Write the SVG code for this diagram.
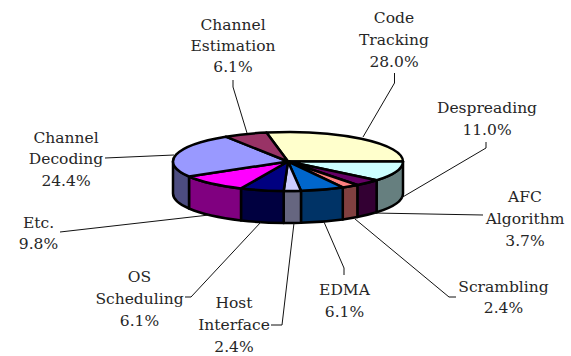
<svg xmlns="http://www.w3.org/2000/svg" width="571" height="356" viewBox="0 0 571 356">
  <style>
    .top, .side { stroke: #000; stroke-width: 2.5; stroke-linejoin: round; }
    .lbl { font-family: "DejaVu Serif", "Liberation Serif", serif; font-size: 15.5px; fill: #262626; text-anchor: middle; }
    .lead { fill: none; stroke: #111; stroke-width: 1; }
  </style>
  <rect width="571" height="356" fill="#fff"/>

  <!-- pie: centre (288,161.5), rx 115, ry 29.5, depth 32 -->
  <g id="code-tracking">
    <path class="top" fill="#FFFFCC" d="M288,161.5 L266.45,132.52 A115,29.5 0 0 1 403,161.5 Z"/>
    <text class="lbl" x="394" y="23">Code</text>
    <text class="lbl" x="394" y="45">Tracking</text>
    <text class="lbl" x="394" y="67">28.0%</text>
  </g>
  <g id="despreading">
    <path class="side" fill="#667F7F" d="M403,161.5 A115,29.5 0 0 1 376.61,180.3 L376.61,212.3 A115,29.5 0 0 0 403,193.5 Z"/>
    <path class="top" fill="#CCFFFF" d="M288,161.5 L403,161.5 A115,29.5 0 0 1 376.61,180.3 Z"/>
    <text class="lbl" x="487" y="113">Despreading</text>
    <text class="lbl" x="487" y="135">11.0%</text>
  </g>
  <g id="afc-algorithm">
    <path class="side" fill="#330033" d="M376.61,180.3 A115,29.5 0 0 1 357.35,185.03 L357.35,217.03 A115,29.5 0 0 0 376.61,212.3 Z"/>
    <path class="top" fill="#660066" d="M288,161.5 L376.61,180.3 A115,29.5 0 0 1 357.35,185.03 Z"/>
    <text class="lbl" x="525" y="202">AFC</text>
    <text class="lbl" x="525" y="224">Algorithm</text>
    <text class="lbl" x="525" y="246">3.7%</text>
  </g>
  <g id="scrambling">
    <path class="side" fill="#804040" d="M357.35,185.03 A115,29.5 0 0 1 342.77,187.44 L342.77,219.44 A115,29.5 0 0 0 357.35,217.03 Z"/>
    <path class="top" fill="#FF8080" d="M288,161.5 L357.35,185.03 A115,29.5 0 0 1 342.77,187.44 Z"/>
    <text class="lbl" x="503.5" y="292">Scrambling</text>
    <text class="lbl" x="503.5" y="313">2.4%</text>
  </g>
  <g id="edma">
    <path class="side" fill="#003366" d="M342.77,187.44 A115,29.5 0 0 1 300.98,190.81 L300.98,222.81 A115,29.5 0 0 0 342.77,219.44 Z"/>
    <path class="top" fill="#0066CC" d="M288,161.5 L342.77,187.44 A115,29.5 0 0 1 300.98,190.81 Z"/>
    <text class="lbl" x="344.5" y="295">EDMA</text>
    <text class="lbl" x="344.5" y="317">6.1%</text>
  </g>
  <g id="host-interface">
    <path class="side" fill="#666680" d="M300.98,190.81 A115,29.5 0 0 1 283.66,190.98 L283.66,222.98 A115,29.5 0 0 0 300.98,222.81 Z"/>
    <path class="top" fill="#CCCCFF" d="M288,161.5 L300.98,190.81 A115,29.5 0 0 1 283.66,190.98 Z"/>
    <text class="lbl" x="234" y="308">Host</text>
    <text class="lbl" x="234" y="330">Interface</text>
    <text class="lbl" x="234" y="352">2.4%</text>
  </g>
  <g id="os-scheduling">
    <path class="side" fill="#000040" d="M283.66,190.98 A115,29.5 0 0 1 241,188.42 L241,220.42 A115,29.5 0 0 0 283.66,222.98 Z"/>
    <path class="top" fill="#000080" d="M288,161.5 L283.66,190.98 A115,29.5 0 0 1 241,188.42 Z"/>
    <text class="lbl" x="139.5" y="282">OS</text>
    <text class="lbl" x="139.5" y="304">Scheduling</text>
    <text class="lbl" x="139.5" y="326">6.1%</text>
  </g>
  <g id="etc">
    <path class="side" fill="#800080" d="M241,188.42 A115,29.5 0 0 1 189.02,176.52 L189.02,208.52 A115,29.5 0 0 0 241,220.42 Z"/>
    <path class="top" fill="#FF00FF" d="M288,161.5 L241,188.42 A115,29.5 0 0 1 189.02,176.52 Z"/>
    <text class="lbl" x="38.5" y="228">Etc.</text>
    <text class="lbl" x="38.5" y="249">9.8%</text>
  </g>
  <g id="channel-decoding">
    <path class="side" fill="#4C4C80" d="M189.02,176.52 A115,29.5 0 0 1 173,161.5 L173,193.5 A115,29.5 0 0 0 189.02,208.52 Z"/>
    <path class="top" fill="#9999FF" d="M288,161.5 L189.02,176.52 A115,29.5 0 0 1 225.77,136.69 Z"/>
    <text class="lbl" x="66" y="143">Channel</text>
    <text class="lbl" x="66" y="164">Decoding</text>
    <text class="lbl" x="66" y="186">24.4%</text>
  </g>
  <g id="channel-estimation">
    <path class="top" fill="#993366" d="M288,161.5 L225.77,136.69 A115,29.5 0 0 1 266.45,132.52 Z"/>
    <text class="lbl" x="233" y="30">Channel</text>
    <text class="lbl" x="233" y="51">Estimation</text>
    <text class="lbl" x="233" y="72">6.1%</text>
  </g>

  <!-- leader lines from labels to slices -->
  <g id="connectors">
    <path class="lead" d="M233,80 L233,87 L247,133"/>
    <path class="lead" d="M394.5,73 L394.5,83 L363,137"/>
    <path class="lead" d="M486,142 L486,148 L401,198"/>
    <path class="lead" d="M105,158 L174,155"/>
    <path class="lead" d="M483,215 L374,213"/>
    <path class="lead" d="M456,297 L449,297 L355,219"/>
    <path class="lead" d="M344,275 L344,268 L324,222"/>
    <path class="lead" d="M271,325 L282,325 L294,223"/>
    <path class="lead" d="M185,297 L191,297 L261,222"/>
    <path class="lead" d="M60,232 L209,215"/>
  </g>
</svg>
